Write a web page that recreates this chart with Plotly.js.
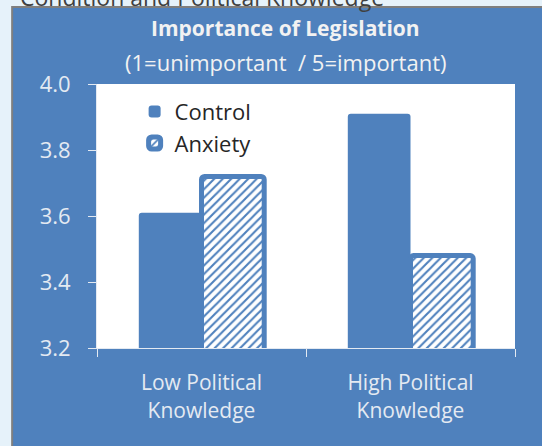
<!DOCTYPE html>
<html>
<head>
<meta charset="utf-8">
<script src="https://cdn.plot.ly/plotly-3.0.1.min.js"></script>
<style>
  body { margin: 0; background: #e6f2fa; }
  #chart { width: 542px; height: 446px; }
</style>
</head>
<body>
<div id="chart"></div>
<script>
// data
const groups = ['Low Political<br>Knowledge', 'High Political<br>Knowledge'];
const control = [3.61, 3.91];
const anxiety = [3.72, 3.48];
const yTicks = [3.2, 3.4, 3.6, 3.8, 4.0];

const blue = '#4f81bd';
const light = '#e4eaf2';
const font = '"Open Sans", Lato, sans-serif';

const traceControl = {
    type: 'bar',
    name: 'Control',
    x: groups,
    y: control,
    marker: { color: blue, line: { width: 0 }, cornerradius: 3 }
};

const traceAnxiety = {
    type: 'bar',
    name: 'Anxiety',
    x: groups,
    y: anxiety,
    marker: {
        color: 'white',
        line: { color: blue, width: 5 },
        cornerradius: 3,
        pattern: { shape: '/', fgcolor: blue, bgcolor: 'white', size: 6, solidity: 0.35 }
    }
};

// plot area in pixels: left 97, right 515, top 84, bottom 348
const layout = {
    width: 542,
    height: 446,
    margin: { l: 97, r: 27, t: 84, b: 98 },
    paper_bgcolor: '#e6f2fa',
    plot_bgcolor: 'rgba(0,0,0,0)',
    font: { family: font, color: light },
    barmode: 'group',
    bargap: 0.4,
    bargroupgap: 0,
    showlegend: true,
    legend: {
        x: 0.09, y: 0.975, xanchor: 'left', yanchor: 'top',
        bgcolor: 'rgba(0,0,0,0)',
        font: { family: font, size: 22, color: '#262626' },
        tracegroupgap: 0
    },
    xaxis: {
        type: 'category',
        tickson: 'boundaries',
        ticks: 'outside',
        ticklen: 8,
        tickcolor: light,
        showline: true,
        linecolor: light,
        linewidth: 1,
        showgrid: false,
        tickfont: { family: font, size: 21, color: light },
        ticklabelstandoff: 16
    },
    yaxis: {
        range: [3.2, 4.0],
        tickvals: yTicks,
        tickformat: '.1f',
        ticks: 'outside',
        ticklen: 8,
        tickcolor: light,
        showline: true,
        linecolor: light,
        showgrid: false,
        zeroline: false,
        tickfont: { family: font, size: 22, color: light },
        ticklabelstandoff: 13
    },
    shapes: [
        {
            type: 'rect', xref: 'paper', yref: 'paper', layer: 'below',
            x0: -0.203, x1: 1.08, y0: -0.4, y1: 1.292,
            fillcolor: blue, line: { color: '#7f7f7f', width: 2 }
        },
        {
            type: 'rect', xref: 'paper', yref: 'paper', layer: 'below',
            x0: 0, x1: 1, y0: 0, y1: 1,
            fillcolor: 'white', line: { width: 0 }
        }
    ],
    annotations: [
        {
            xref: 'paper', yref: 'paper', x: 0.452, y: 1.212, yanchor: 'middle',
            text: '<b>Importance of Legislation</b>', showarrow: false,
            font: { family: font, size: 21, color: '#f2f2f2' }
        },
        {
            xref: 'paper', yref: 'paper', x: 0.452, y: 1.083, yanchor: 'middle',
            text: '(1=unimportant\u00a0 / 5=important)', showarrow: false,
            font: { family: font, size: 22, color: '#f2f2f2' }
        },
        {
            xref: 'paper', yref: 'paper', x: -0.19, y: 1.33,
            xanchor: 'left', yanchor: 'middle',
            text: 'Condition and Political Knowledge', showarrow: false,
            font: { family: font, size: 23, color: '#404040' }
        }
    ]
};

Plotly.newPlot('chart', [traceControl, traceAnxiety], layout, { displayModeBar: false, staticPlot: true });
</script>
</body>
</html>
